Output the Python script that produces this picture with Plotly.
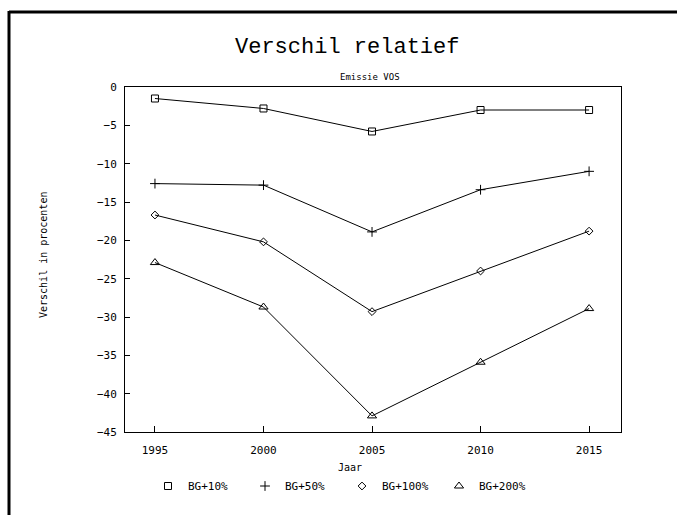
import plotly.graph_objects as go

# Emission differences (VOS) relative to the base scenario, in percent
years = [1995, 2000, 2005, 2010, 2015]
bg_10 = [-1.5, -2.8, -5.8, -3.0, -3.0]
bg_50 = [-12.6, -12.8, -18.9, -13.4, -11.0]
bg_100 = [-16.7, -20.2, -29.3, -24.0, -18.8]
bg_200 = [-22.9, -28.7, -42.9, -35.9, -28.9]

series_names = ["BG+10%", "BG+50%", "BG+100%", "BG+200%"]
y_ticks = [0, -5, -10, -15, -20, -25, -30, -35, -40, -45]

series = [bg_10, bg_50, bg_100, bg_200]
symbols = ["square-open", "cross-thin-open", "diamond-open", "triangle-up-open"]
sizes = [7, 7, 6, 8]

MONO = "DejaVu Sans Mono"
THIN = "Liberation Mono"

fig = go.Figure()
for name, vals, sym, sz in zip(series_names, series, symbols, sizes):
    fig.add_trace(go.Scatter(
        x=years, y=vals, mode="lines+markers", name=name, showlegend=False,
        line=dict(color="black", width=1),
        marker=dict(symbol=sym, size=sz, color="black",
                    line=dict(color="black", width=1)),
    ))
    # marker-only entry for the legend row
    fig.add_trace(go.Scatter(
        x=[None], y=[None], mode="markers", name=name,
        marker=dict(symbol=sym, size=sz, color="black",
                    line=dict(color="black", width=1)),
    ))

L, R, T, B = 125, 621, 87, 432
W, H = 677, 515
pw, ph = R - L, B - T


def px(xp):
    return (xp - L) / pw


def py(yp):
    return (B - yp) / ph


fig.update_layout(
    width=W, height=H,
    margin=dict(l=L, r=W - R, t=T, b=H - B),
    paper_bgcolor="white", plot_bgcolor="white",
    font=dict(family=MONO, size=11, color="black"),
    showlegend=True,
    legend=dict(
        orientation="h", x=px(148), y=py(486), xanchor="left", yanchor="middle",
        entrywidth=52, entrywidthmode="pixels",
        font=dict(family=MONO, size=11, color="black"),
        bgcolor="rgba(0,0,0,0)", itemclick=False,
    ),
)

fig.update_xaxes(
    range=[1993.62, 2016.47], tickvals=years,
    ticks="inside", ticklen=6, tickcolor="black", tickwidth=1,
    ticklabelstandoff=8,
    showline=True, linecolor="black", linewidth=1, mirror=True,
    showgrid=False, zeroline=False,
    tickfont=dict(family=MONO, size=11),
)
fig.update_yaxes(
    range=[-45, 0], tickvals=y_ticks,
    ticks="inside", ticklen=5, tickcolor="black", tickwidth=1,
    ticklabelstandoff=5,
    showline=True, linecolor="black", linewidth=1, mirror=True,
    showgrid=False, zeroline=False,
    tickfont=dict(family=MONO, size=11),
)

annotations = [
    dict(text="Verschil relatief", x=px(347), y=py(48), font=dict(family=THIN, size=22)),
    dict(text="Emissie VOS", x=px(370), y=py(77), font=dict(family=MONO, size=9)),
    dict(text="Jaar", x=px(350), y=py(467), font=dict(family=MONO, size=10)),
    dict(text="Verschil in procenten", x=px(43), y=py(255), textangle=-90,
         font=dict(family=MONO, size=10)),
]
for a in annotations:
    fig.add_annotation(xref="paper", yref="paper", showarrow=False,
                       xanchor="center", yanchor="middle", **a)

# page frame: heavy rule along the top and the left side
fig.add_shape(type="line", xref="paper", yref="paper",
              x0=px(9), x1=px(W + 5), y0=py(12), y1=py(12),
              line=dict(color="black", width=3))
fig.add_shape(type="line", xref="paper", yref="paper",
              x0=px(9), x1=px(9), y0=py(11), y1=py(H + 5),
              line=dict(color="black", width=3))

fig.write_html("out.html")
